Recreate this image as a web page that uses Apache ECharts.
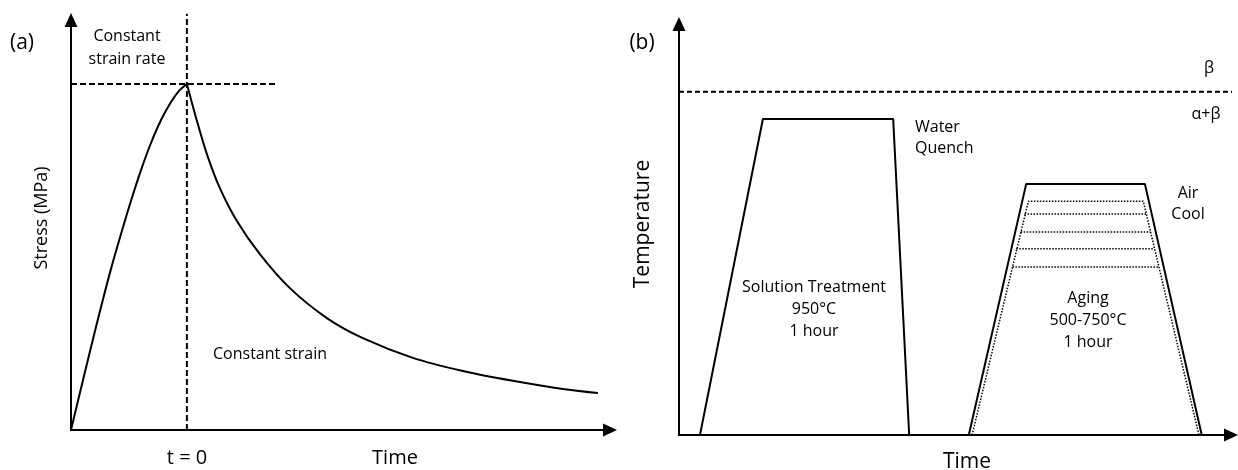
<!DOCTYPE html>
<html>
<head>
<meta charset="utf-8">
<script src="https://cdn.jsdelivr.net/npm/echarts@6/dist/echarts.min.js"></script>
<style>html,body{margin:0;padding:0;background:#fff}#c{width:1238px;height:470px}</style>
</head>
<body>
<div id="c"></div>
<script>
// ---------- Panel (a): stress relaxation ----------
// time (arbitrary units, peak at t = 0) and stress (arbitrary units)
const loadTime    = [-21.5, -19.64, -17.79, -15.93, -14.08, -12.22, -10.37, -8.51, -6.66, -4.80, -2.95, -1.46, 0];
const loadStress  = [0, 10.2, 20.2, 30.0, 39.3, 47.8, 55.9, 63.4, 70.0, 75.6, 80.0, 82.7, 84.4];
const relaxTime   = [0, 1.86, 3.71, 6.12, 9.28, 13.54, 19.11, 25.97, 32.65, 41.93, 51.21, 60.48, 69.76, 76.25];
const relaxStress = [84.4, 75.4, 67.3, 59.0, 50.98, 42.9, 34.6, 27.3, 22.4, 17.6, 14.4, 12.0, 10.0, 9.0];
const peakStress = 84.4;
const peakLineEnd = 16.5;
const markerTop = 101.5;

// ---------- Panel (b): heat treatment schedule ----------
const solutionTime = [3.8, 15.2, 38.8, 41.7];
const solutionTemp = [0, 76.9, 76.9, 0];
const agingTime    = [52.5, 62.9, 84.4, 94.7];
const agingTemp    = [0, 61.1, 61.1, 0];
const agingTopTime = [53.1, 63.3, 84.1, 94.2];
const agingTopTemp = [0, 56.9, 56.9, 0];
const agingLevels      = [53.8, 49.4, 45.3, 40.9];
const agingLevelStart  = [62.6, 61.9, 61.1, 60.4];
const agingLevelEnd    = [84.6, 85.4, 86.1, 86.9];
const betaTransus = 83.5;
const betaLineEnd = 101.3;

const zip = (a, b) => a.map((v, i) => [v, b[i]]);
const FONT = 'Open Sans';
const black = '#000';

const axisBase = {
  splitLine: { show: false },
  axisTick: { show: false },
  axisLabel: { show: false },
  axisLine: { onZero: false, symbol: ['none', 'triangle'], symbolSize: [13, 14],
              lineStyle: { color: black, width: 2 } }
};

const series = [
  { type: 'line', xAxisIndex: 0, yAxisIndex: 0, data: zip(loadTime, loadStress), smooth: 0.3,
    showSymbol: false, lineStyle: { color: black, width: 2 }, silent: true },
  { type: 'line', xAxisIndex: 0, yAxisIndex: 0, data: zip(relaxTime, relaxStress), smooth: 0.3,
    showSymbol: false, lineStyle: { color: black, width: 2 }, silent: true },
  { type: 'line', xAxisIndex: 0, yAxisIndex: 0, data: [[loadTime[0], peakStress], [peakLineEnd, peakStress]],
    showSymbol: false, clip: false, lineStyle: { color: black, width: 2, type: [6, 3] }, silent: true },
  { type: 'line', xAxisIndex: 0, yAxisIndex: 0, data: [[0, 0], [0, markerTop]],
    showSymbol: false, clip: false, lineStyle: { color: black, width: 2, type: [6, 3] }, silent: true },

  { type: 'line', xAxisIndex: 1, yAxisIndex: 1, data: [[0, betaTransus], [betaLineEnd, betaTransus]],
    showSymbol: false, clip: false, lineStyle: { color: black, width: 2, type: [5, 3] }, silent: true },
  { type: 'line', xAxisIndex: 1, yAxisIndex: 1, data: zip(solutionTime, solutionTemp),
    showSymbol: false, lineStyle: { color: black, width: 2 }, silent: true },
  { type: 'line', xAxisIndex: 1, yAxisIndex: 1, data: zip(agingTopTime, agingTopTemp),
    showSymbol: false, lineStyle: { color: black, width: 1.5, type: [1.5, 1.5] }, silent: true },
  { type: 'line', xAxisIndex: 1, yAxisIndex: 1, data: zip(agingTime, agingTemp),
    showSymbol: false, lineStyle: { color: black, width: 2 }, silent: true }
];
agingLevels.forEach((lv, i) => {
  series.push({ type: 'line', xAxisIndex: 1, yAxisIndex: 1,
    data: [[agingLevelStart[i], lv], [agingLevelEnd[i], lv]],
    showSymbol: false, lineStyle: { color: black, width: 1.5, type: [1.5, 1.5] }, silent: true });
});

const txt = (text, x, y, size, extra, rot) => ({
  type: 'text', x: x, y: y, rotation: rot || 0, silent: true,
  style: Object.assign({ text: text, fontFamily: FONT, fontSize: size, fill: black,
    align: 'center', verticalAlign: 'middle' }, extra || {})
});

const graphic = [
  txt('(a)', 22, 43, 21),
  txt('(b)', 642, 43, 21),
  txt('Constant\nstrain rate', 127, 48, 16, { lineHeight: 23 }),
  txt('Constant strain', 213, 354, 16, { align: 'left' }),
  txt('t = 0', 187, 458, 20),
  txt('Time', 395, 458, 20),
  txt('Stress (MPa)', 42, 218, 18, null, Math.PI / 2),
  txt('Temperature', 643, 224, 21, null, Math.PI / 2),
  txt('Time', 967, 462, 21),
  txt('β', 1209, 68, 16),
  txt('α+β', 1206, 114, 16),
  txt('Water\nQuench', 915, 138, 16, { align: 'left', lineHeight: 21 }),
  txt('Air\nCool', 1188, 204, 16, { lineHeight: 21 }),
  txt('Solution Treatment\n950°C\n1 hour', 814, 309, 16, { lineHeight: 22 }),
  txt('Aging\n500-750°C\n1 hour', 1088, 320, 16, { lineHeight: 22 })
];

const chart = echarts.init(document.getElementById('c'), null, { renderer: 'canvas' });
chart.setOption({
  animation: false,
  backgroundColor: '#fff',
  grid: [
    { left: 71, top: 20, width: 539, height: 410 },
    { left: 679, top: 24, width: 552, height: 411 }
  ],
  xAxis: [
    Object.assign({ type: 'value', gridIndex: 0, min: -21.5, max: 78.5 }, axisBase),
    Object.assign({ type: 'value', gridIndex: 1, min: 0, max: 100 }, axisBase)
  ],
  yAxis: [
    Object.assign({ type: 'value', gridIndex: 0, min: 0, max: 100 }, axisBase),
    Object.assign({ type: 'value', gridIndex: 1, min: 0, max: 100 }, axisBase)
  ],
  series: series,
  graphic: graphic
});
</script>
</body>
</html>
